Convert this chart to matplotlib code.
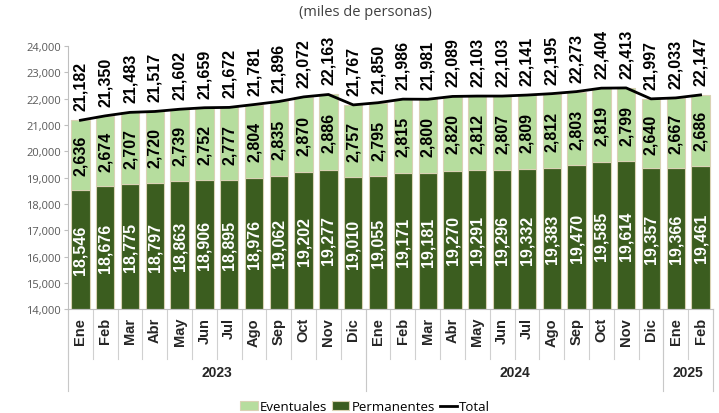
import matplotlib
matplotlib.use("Agg")
import matplotlib.pyplot as plt
import matplotlib.transforms as mtransforms
import numpy as np

months = ["Ene", "Feb", "Mar", "Abr", "May", "Jun", "Jul", "Ago", "Sep", "Oct", "Nov", "Dic",
          "Ene", "Feb", "Mar", "Abr", "May", "Jun", "Jul", "Ago", "Sep", "Oct", "Nov", "Dic",
          "Ene", "Feb"]
years = ["2023", "2024", "2025"]
year_counts = [12, 12, 2]

permanentes = [18546, 18676, 18775, 18797, 18863, 18906, 18895, 18976, 19062, 19202, 19277, 19010,
               19055, 19171, 19181, 19270, 19291, 19296, 19332, 19383, 19470, 19585, 19614, 19357,
               19366, 19461]
eventuales = [2636, 2674, 2707, 2720, 2739, 2752, 2777, 2804, 2835, 2870, 2886, 2757,
              2795, 2815, 2800, 2820, 2812, 2807, 2809, 2812, 2803, 2819, 2799, 2640,
              2667, 2686]
total = [21182, 21350, 21483, 21517, 21602, 21659, 21672, 21781, 21896, 22072, 22163, 21767,
         21850, 21986, 21981, 22089, 22103, 22103, 22141, 22195, 22273, 22404, 22413, 21997,
         22033, 22147]

base = 14000
yticks = list(range(14000, 24001, 1000))

c_perm = "#3b5d1f"
c_event = "#b6dd9e"
c_edge = "#d9d2b4"
light_font = ["Open Sans", "DejaVu Sans"]
bold_font = ["Liberation Sans", "DejaVu Sans"]

fig = plt.figure(figsize=(7.19, 4.14), dpi=100)
ax = fig.add_axes([0.0946, 0.251, 0.897, 0.635])

x = np.arange(len(months))
perm_h = [p - base for p in permanentes]
ax.bar(x, perm_h, bottom=base, width=0.74, color=c_perm, edgecolor=c_edge, linewidth=0.8,
       label="Permanentes", zorder=2)
ax.bar(x, eventuales, bottom=permanentes, width=0.74, color=c_event, edgecolor=c_edge,
       linewidth=0.8, label="Eventuales", zorder=2)
ax.plot(x, total, color="black", linewidth=2.0, label="Total", zorder=3)

for xi, p, e, t in zip(x, permanentes, eventuales, total):
    ax.text(xi, (base + p) / 2, f"{p:,}", rotation=90, ha="center", va="center",
            color="white", fontsize=11.5, fontweight="bold", family=bold_font, zorder=4)
    ax.text(xi, p + e / 2, f"{e:,}", rotation=90, ha="center", va="center",
            color="black", fontsize=11.5, fontweight="bold", family=bold_font, zorder=4)
    ax.text(xi, t + 380, f"{t:,}", rotation=90, ha="center", va="bottom",
            color="black", fontsize=11.5, fontweight="bold", family=bold_font, zorder=4)

ax.set_xlim(-0.5, len(months) - 0.5)
ax.set_ylim(base, 24000)
ax.set_yticks(yticks)
ax.set_yticklabels([f"{v:,}" for v in yticks], family=light_font, fontsize=8, color="#595959")
ax.tick_params(axis="y", length=3, color="#bfbfbf", width=0.8, pad=2)
ax.set_xticks([])
for s in ["top", "right"]:
    ax.spines[s].set_visible(False)
ax.spines["left"].set_color("#bfbfbf")
ax.spines["bottom"].set_color("#bfbfbf")

trans = mtransforms.blended_transform_factory(ax.transData, ax.transAxes)
# month labels
for xi, m in zip(x, months):
    ax.text(xi, -0.03, m, rotation=90, ha="center", va="top", transform=trans,
            fontsize=10.5, fontweight="bold", family=bold_font, color="#262626")
# small separators between months
for b in np.arange(-0.5, len(months) - 0.4, 1.0):
    ax.plot([b, b], [0, -0.19], transform=trans, color="#d0d0d0", linewidth=0.8, clip_on=False)
# year separators and labels
start = 0
bounds = [-0.5]
for yr, cnt in zip(years, year_counts):
    center = start + (cnt - 1) / 2
    ax.text(center, -0.24, yr, ha="center", va="center", transform=trans,
            fontsize=10, fontweight="bold", family=bold_font, color="#262626")
    start += cnt
    bounds.append(start - 0.5)
for b in bounds:
    ax.plot([b, b], [0, -0.31], transform=trans, color="#c8c8c8", linewidth=0.8, clip_on=False)

fig.text(0.508, 0.97, "(miles de personas)", ha="center", va="center",
         family=light_font, fontsize=10.5, color="#404040")

handles, labels = ax.get_legend_handles_labels()
order = [labels.index("Eventuales"), labels.index("Permanentes"), labels.index("Total")]
leg = fig.legend([handles[i] for i in order], [labels[i] for i in order],
                 loc="center", bbox_to_anchor=(0.508, 0.015), ncol=3, frameon=False,
                 prop={"family": light_font, "size": 9.5}, handlelength=1.3,
                 handletextpad=0.15, columnspacing=0.4, borderaxespad=0)

fig.savefig("out.png", dpi=100, facecolor="white")
